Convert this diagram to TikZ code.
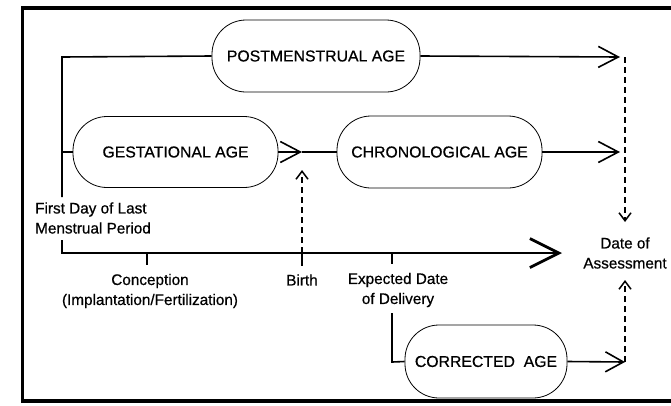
\documentclass[tikz,border=0pt]{standalone}
\usepackage{fontspec}
\setmainfont[FakeBold=0.6]{Liberation Sans}
\usetikzlibrary{arrows.meta}
\begin{document}
\begin{tikzpicture}[x=1pt,y=-1pt,
  agebox/.style={draw, line width=0.8pt, rounded corners=34pt, align=center,
    font=\fontsize{15.8}{18}\selectfont, inner sep=0pt},
  lbl/.style={font=\fontsize{15.3}{20}\selectfont, align=center, inner sep=0pt},
  conn/.style={line width=1.6pt},
  openarrow/.style={-{Straight Barb[length=20pt,width=21pt,line width=1.6pt]}},
  dasharrow/.style={line width=1.6pt, dash pattern=on 6pt off 4pt,
    -{Straight Barb[length=8pt,width=12pt,line width=1.5pt]}},
  tline/.style={line width=2.8pt}]
\useasboundingbox (0,0) rectangle (671,405);
\clip (0,0) rectangle (671,405);
% outer frame
\draw[line width=3.6pt] (22.5,8) rectangle (690,401);

% age boxes
\node[agebox, minimum width=208pt, minimum height=72pt] (pma) at (316,56) {POSTMENSTRUAL AGE};
\node[agebox, minimum width=205pt, minimum height=71pt] (ga) at (175.5,152) {GESTATIONAL AGE};
\node[agebox, minimum width=205pt, minimum height=72pt] (ca) at (439.5,152) {CHRONOLOGICAL AGE};
\node[agebox, minimum width=162pt, minimum height=73pt] (cor) at (486,361.5) {CORRECTED\ \ AGE};

% timeline anchors
\coordinate (lmptop) at (62,57);
\coordinate (lmpgab) at (62,152);
\coordinate (lmpbot) at (62,197);
\coordinate (lmpcorner) at (62,253);
\coordinate (lmpstub) at (62,240);
\coordinate (tlend) at (562,253);
\coordinate (conc) at (147,253);
\coordinate (birth) at (302,253);
\coordinate (edd) at (392,253);
\coordinate (birthtip) at (302,170);
\coordinate (gatip) at (302,152);
\coordinate (pmatip) at (620,57);
\coordinate (catip) at (620,152);
\coordinate (cortip) at (625,362);
\coordinate (dashtop) at (625,57);
\coordinate (eddtop) at (392,313);
\coordinate (eddcorner) at (392,362);

% labels
\node[lbl, align=left, anchor=west] (lmp) at (35,218) {First Day of Last\\Menstrual Period};
\node[lbl] (concl) at (150,291) {Conception\\(Implantation/Fertilization)};
\node[lbl] (birthl) at (302,280) {Birth};
\node[lbl] (eddl) at (398,290) {Expected Date\\of Delivery};
\node[lbl] (doa) at (625,253) {Date of\\Assessment};
\coordinate (doatop) at (625,222);
\coordinate (doabot) at (625,280);

% postmenstrual bracket from LMP
\draw[conn] (lmpbot) -- (lmptop) -- (pma.west);
\draw[conn] (lmpgab) -- (ga.west);
\draw[conn, openarrow] (pma.east) -- (pmatip);

% gestational to chronological
\draw[conn, openarrow] (ga.east) -- (gatip);
\draw[conn] (gatip) -- (ca.west);
\draw[conn, openarrow] (ca.east) -- (catip);

% main time axis
\draw[tline, line join=miter, -{Straight Barb[length=29pt,width=29pt,line width=2.8pt]}]
  (lmpstub) -- (lmpcorner) -- (tlend);
\draw[line width=1.6pt] (conc) -- ++(0,12);
\draw[line width=1.6pt] (birth) -- ++(0,13);
\draw[line width=1.6pt] (edd) -- ++(0,11);

% birth marker
\draw[dasharrow] (birth) -- (birthtip);

% corrected age from expected delivery
\draw[conn] (eddtop) -- (eddcorner) -- (cor.west);
\draw[conn, -{Straight Barb[length=18pt,width=20pt,line width=1.6pt]}] (cor.east) -- (cortip);

% converging on date of assessment
\draw[dasharrow] (dashtop) -- (doatop);
\draw[dasharrow] (cortip) -- (doabot);
\end{tikzpicture}
\end{document}
